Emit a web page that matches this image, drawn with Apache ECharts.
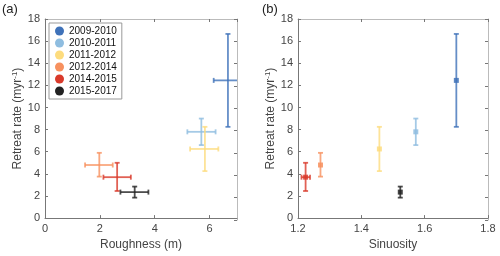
<!DOCTYPE html>
<html><head><meta charset="utf-8">
<script src="https://cdn.jsdelivr.net/npm/echarts@6/dist/echarts.min.js"></script>
<style>html,body{margin:0;padding:0;background:#fff}#c{width:500px;height:256px}</style>
</head><body><div id="c"></div>
<script>
const years = ['2009-2010','2010-2011','2011-2012','2012-2014','2014-2015','2015-2017'];
const colors = ['#3f72b9','#8fbde0','#fddc7e','#f7915f','#d93a2b','#222222'];
const roughness = [6.67, 5.70, 5.83, 1.98, 2.63, 3.27];
const roughLo   = [6.15, 5.19, 5.29, 1.46, 2.13, 2.75];
const roughHi   = [7.17, 6.22, 6.32, 2.47, 3.13, 3.77];
const rate      = [12.45, 7.8, 6.25, 4.8, 3.7, 2.35];
const rateLo    = [8.25, 6.6, 4.25, 3.75, 2.45, 1.85];
const rateHi    = [16.65, 9.0, 8.25, 5.9, 5.0, 2.85];
const sinuosity = [1.700, 1.572, 1.457, 1.271, 1.224, 1.523];
const sinLo     = [1.700, 1.572, 1.457, 1.271, 1.211, 1.523];
const sinHi     = [1.700, 1.572, 1.457, 1.271, 1.238, 1.523];
const yTicks = [0,2,4,6,8,10,12,14,16,18];

const FONT = 'Liberation Sans';
const axisCol = '#777';
const labCol = '#444';

function makeRender(color, marker){
  return function(params, api){
    const x = api.value(0), y = api.value(1);
    const xlo = api.value(2), xhi = api.value(3), ylo = api.value(4), yhi = api.value(5);
    const c = api.coord([x,y]);
    const pxl = api.coord([xlo,y]), pxh = api.coord([xhi,y]);
    const pyl = api.coord([x,ylo]), pyh = api.coord([x,yhi]);
    const cap = 2.5;
    const st = {stroke: color, lineWidth: 1.8, opacity: 0.8};
    const ch = [];
    ch.push({type:'line', shape:{x1:pyl[0],y1:pyl[1],x2:pyh[0],y2:pyh[1]}, style:st});
    ch.push({type:'line', shape:{x1:pyl[0]-cap,y1:pyl[1],x2:pyl[0]+cap,y2:pyl[1]}, style:st});
    ch.push({type:'line', shape:{x1:pyh[0]-cap,y1:pyh[1],x2:pyh[0]+cap,y2:pyh[1]}, style:st});
    if (xhi - xlo > 1e-9) {
      ch.push({type:'line', shape:{x1:pxl[0],y1:pxl[1],x2:pxh[0],y2:pxh[1]}, style:st});
      ch.push({type:'line', shape:{x1:pxl[0],y1:pxl[1]-cap,x2:pxl[0],y2:pxl[1]+cap}, style:st});
      ch.push({type:'line', shape:{x1:pxh[0],y1:pxh[1]-cap,x2:pxh[0],y2:pxh[1]+cap}, style:st});
    }
    if (marker) {
      ch.push({type:'rect', shape:{x:c[0]-2.5,y:c[1]-2.5,width:5,height:5}, style:{fill:color, opacity:0.85}});
    }
    return {type:'group', children: ch};
  };
}

const series = [];
years.forEach((name,i)=>{
  series.push({
    name, type:'custom', xAxisIndex:0, yAxisIndex:0, clip:true,
    itemStyle:{color:colors[i]},
    renderItem: makeRender(colors[i], false),
    data:[[roughness[i], rate[i], roughLo[i], roughHi[i], rateLo[i], rateHi[i]]]
  });
  series.push({
    name, type:'custom', xAxisIndex:2, yAxisIndex:2, clip:true,
    itemStyle:{color:colors[i]},
    renderItem: makeRender(colors[i], true),
    data:[[sinuosity[i], rate[i], sinLo[i], sinHi[i], rateLo[i], rateHi[i]]]
  });
});

function xAx(grid, min, max, interval, name, fmt, main){
  return {
    type:'value', gridIndex:grid, min, max, interval,
    position: main ? 'bottom' : 'top',
    name: main ? name : '', nameLocation:'middle', nameGap:20,
    nameTextStyle:{color:labCol, fontSize:12, fontFamily:FONT},
    axisLine:{show:true, onZero:false, lineStyle:{color: main ? axisCol : '#bbb', width:1}},
    axisTick:{show:true, inside:true, length:3, lineStyle:{color:axisCol}},
    axisLabel:{show:main, color:labCol, fontSize:11, fontFamily:FONT, margin:5, showMaxLabel: fmt ? true : false, formatter: fmt || (v=>v)},
    splitLine:{show:false}
  };
}
function yAx(grid, main){
  return {
    type:'value', gridIndex:grid, min:yTicks[0], max:yTicks[yTicks.length-1], interval:2,
    position: main ? 'left' : 'right',
    name: main ? 'Retreat rate (myr{sup|-1})' : '', nameLocation:'middle', nameGap:18,
    nameTextStyle:{color:labCol, fontSize:12, fontFamily:FONT, rich:{sup:{fontSize:8, verticalAlign:'bottom', color:labCol, fontFamily:FONT, padding:[0,0,6,0]}}},
    axisLine:{show:true, onZero:false, lineStyle:{color: main ? axisCol : '#bbb', width:1}},
    axisTick:{show:true, inside:true, length:3, lineStyle:{color:axisCol}},
    axisLabel:{show:main, color:labCol, fontSize:11, fontFamily:FONT, margin:5},
    splitLine:{show:false}
  };
}

const option = {
  animation:false,
  textStyle:{fontFamily:FONT},
  grid:[
    {left:45, top:19, width:192, height:201, show:false},
    {left:45, top:19, width:192, height:201, show:false},
    {left:298, top:19, width:190, height:201, show:false},
    {left:298, top:19, width:190, height:201, show:false}
  ],
  xAxis:[
    xAx(0,0,7,2,'Roughness (m)',null,true),
    xAx(1,0,7,2,'',null,false),
    xAx(2,1.2,1.8,0.2,'Sinuosity',v=>v.toFixed(1),true),
    xAx(3,1.2,1.8,0.2,'',v=>v.toFixed(1),false)
  ],
  yAxis:[yAx(0,true), yAx(1,false), yAx(2,true), yAx(3,false)],
  legend:{
    left:49, top:23, orient:'vertical', icon:'circle',
    itemWidth:9, itemHeight:10, itemGap:2,
    padding:[3,5,3,6],
    borderColor:'#999', borderWidth:1, backgroundColor:'#fff',
    textStyle:{color:'#111', fontSize:10, lineHeight:10, fontFamily:FONT},
    data: years
  },
  graphic:[
    {type:'text', left:2, top:3, style:{text:'(a)', fontSize:13, fontFamily:FONT, fill:'#222'}},
    {type:'text', left:262, top:3, style:{text:'(b)', fontSize:13, fontFamily:FONT, fill:'#222'}}
  ],
  series
};
const chart = echarts.init(document.getElementById('c'), null, {renderer:'canvas'});
chart.setOption(option);
</script></body></html>
